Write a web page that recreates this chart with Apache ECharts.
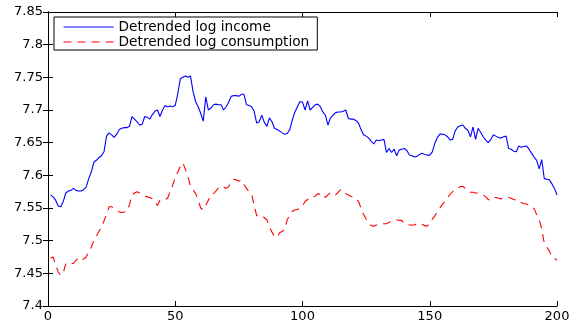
<!DOCTYPE html>
<html>
<head>
<meta charset="utf-8">
<script src="https://cdn.jsdelivr.net/npm/echarts@6/dist/echarts.min.js"></script>
<style>
html,body{margin:0;padding:0;background:#fff;}
#chart{width:578px;height:324px;}
</style>
</head>
<body>
<div id="chart"></div>
<script>
// Observation index runs 1..200
var seriesNames = ['Detrended log income', 'Detrended log consumption'];
var xTicks = [0, 50, 100, 150, 200];

var incomeValues = [
  7.570, 7.567, 7.562, 7.553, 7.552, 7.560, 7.573, 7.576, 7.577, 7.580,
  7.577, 7.576, 7.576, 7.578, 7.582, 7.595, 7.605, 7.620, 7.623, 7.627,
  7.630, 7.636, 7.660, 7.665, 7.662, 7.658, 7.663, 7.670, 7.672, 7.673,
  7.673, 7.675, 7.690, 7.686, 7.682, 7.677, 7.678, 7.690, 7.689, 7.686,
  7.693, 7.698, 7.700, 7.690, 7.700, 7.707, 7.705, 7.706, 7.705, 7.707,
  7.725, 7.748, 7.750, 7.752, 7.750, 7.752, 7.728, 7.713, 7.705, 7.695,
  7.683, 7.720, 7.700, 7.703, 7.708, 7.709, 7.708, 7.708, 7.700, 7.705,
  7.712, 7.721, 7.722, 7.722, 7.721, 7.724, 7.724, 7.708, 7.707, 7.705,
  7.698, 7.680, 7.682, 7.692, 7.681, 7.675, 7.688, 7.682, 7.672, 7.670,
  7.668, 7.665, 7.663, 7.664, 7.670, 7.685, 7.697, 7.705, 7.713, 7.712,
  7.700, 7.714, 7.700, 7.704, 7.708, 7.709, 7.705, 7.697, 7.692, 7.677,
  7.688, 7.692, 7.696, 7.697, 7.697, 7.698, 7.700, 7.687, 7.686, 7.686,
  7.684, 7.680, 7.670, 7.662, 7.660, 7.657, 7.652, 7.648, 7.654, 7.653,
  7.654, 7.655, 7.635, 7.641, 7.635, 7.640, 7.630, 7.639, 7.640, 7.641,
  7.638, 7.631, 7.630, 7.628, 7.629, 7.632, 7.634, 7.632, 7.631, 7.631,
  7.636, 7.649, 7.658, 7.663, 7.663, 7.662, 7.659, 7.654, 7.655, 7.668,
  7.674, 7.676, 7.677, 7.672, 7.669, 7.659, 7.674, 7.655, 7.672, 7.666,
  7.659, 7.654, 7.650, 7.655, 7.662, 7.660, 7.658, 7.657, 7.659, 7.660,
  7.641, 7.640, 7.637, 7.636, 7.645, 7.643, 7.644, 7.645, 7.640, 7.634,
  7.628, 7.623, 7.610, 7.624, 7.595, 7.594, 7.593, 7.587, 7.580, 7.570
];

var consumptionValues = [
  7.473, 7.475, 7.463, 7.452, 7.447, 7.451, 7.465, 7.466, 7.465, 7.465,
  7.470, 7.473, 7.470, 7.472, 7.475, 7.484, 7.490, 7.500, 7.507, 7.514,
  7.520, 7.530, 7.540, 7.552, 7.552, 7.549, 7.547, 7.544, 7.543, 7.544,
  7.545, 7.555, 7.570, 7.573, 7.575, 7.573, 7.570, 7.568, 7.567, 7.566,
  7.564, 7.559, 7.554, 7.562, 7.563, 7.563, 7.565, 7.575, 7.585, 7.597,
  7.605, 7.614, 7.619, 7.609, 7.598, 7.583, 7.578, 7.572, 7.562, 7.550,
  7.547, 7.554, 7.562, 7.570, 7.572, 7.576, 7.581, 7.583, 7.582, 7.580,
  7.583, 7.590, 7.594, 7.593, 7.591, 7.593, 7.586, 7.580, 7.575, 7.572,
  7.554, 7.538, 7.539, 7.538, 7.535, 7.532, 7.522, 7.513, 7.507, 7.505,
  7.512, 7.514, 7.518, 7.532, 7.539, 7.545, 7.547, 7.548, 7.549, 7.553,
  7.560, 7.563, 7.567, 7.567, 7.568, 7.572, 7.571, 7.572, 7.566, 7.570,
  7.574, 7.573, 7.570, 7.574, 7.578, 7.577, 7.572, 7.570, 7.568, 7.567,
  7.564, 7.560, 7.550, 7.540, 7.533, 7.529, 7.523, 7.522, 7.524, 7.524,
  7.524, 7.526, 7.526, 7.528, 7.530, 7.531, 7.532, 7.531, 7.531, 7.526,
  7.525, 7.524, 7.524, 7.524, 7.526, 7.527, 7.525, 7.523, 7.522, 7.528,
  7.533, 7.538, 7.544, 7.550, 7.556, 7.560, 7.566, 7.571, 7.575, 7.578,
  7.580, 7.583, 7.583, 7.580, 7.576, 7.574, 7.574, 7.573, 7.573, 7.571,
  7.570, 7.567, 7.563, 7.562, 7.566, 7.566, 7.565, 7.564, 7.565, 7.565,
  7.566, 7.565, 7.563, 7.562, 7.562, 7.558, 7.557, 7.556, 7.554, 7.552,
  7.549, 7.540, 7.532, 7.518, 7.496, 7.490, 7.484, 7.476, 7.473, 7.470
];

function toPairs(vals) {
  return vals.map(function (v, i) { return [i + 1, v]; });
}

var FONT = 'DejaVu Sans';
var chart = echarts.init(document.getElementById('chart'), null, { renderer: 'canvas' });

var axisLineStyle = { show: true, lineStyle: { color: '#000', width: 1 } };
var tickStyle = { show: true, inside: true, length: 5, lineStyle: { color: '#000', width: 1 } };

chart.setOption({
  animation: false,
  backgroundColor: '#fff',
  grid: { left: 48, right: 21, top: 12, bottom: 18, containLabel: false },
  legend: {
    data: seriesNames,
    orient: 'vertical',
    left: 54,
    top: 17,
    padding: [3, 8, 1, 9],
    itemGap: 1,
    itemWidth: 50,
    itemHeight: 14,
    backgroundColor: '#fff',
    borderColor: '#000',
    borderWidth: 1,
    borderRadius: 0,
    itemStyle: { opacity: 0 },
    lineStyle: { width: 1.1 },
    textStyle: { color: '#000', fontFamily: FONT, fontSize: 13.7 }
  },
  xAxis: [
    {
      type: 'value', position: 'bottom', min: 0, max: 200, interval: 50,
      axisLine: axisLineStyle, axisTick: tickStyle, splitLine: { show: false },
      axisLabel: { color: '#000', fontFamily: FONT, fontSize: 13, margin: 4 }
    },
    {
      type: 'value', position: 'top', min: 0, max: 200, interval: 50,
      axisLine: axisLineStyle, axisTick: tickStyle, splitLine: { show: false },
      axisLabel: { show: false }
    }
  ],
  yAxis: [
    {
      type: 'value', position: 'left', min: 7.4, max: 7.85, interval: 0.05,
      axisLine: axisLineStyle, axisTick: tickStyle, splitLine: { show: false },
      axisLabel: { color: '#000', fontFamily: FONT, fontSize: 13, margin: 5 }
    },
    {
      type: 'value', position: 'right', min: 7.4, max: 7.85, interval: 0.05,
      axisLine: axisLineStyle, axisTick: tickStyle, splitLine: { show: false },
      axisLabel: { show: false }
    }
  ],
  series: [
    {
      name: seriesNames[0], type: 'line', data: toPairs(incomeValues),
      xAxisIndex: 0, yAxisIndex: 0,
      symbol: 'none', showSymbol: false,
      lineStyle: { color: '#0000ff', width: 1.1 },
      itemStyle: { color: '#0000ff' }
    },
    {
      name: seriesNames[1], type: 'line', data: toPairs(consumptionValues),
      xAxisIndex: 0, yAxisIndex: 0,
      symbol: 'none', showSymbol: false,
      lineStyle: { color: '#ff0000', width: 1.1, type: [8, 6] },
      itemStyle: { color: '#ff0000' }
    }
  ]
});
</script>
</body>
</html>
